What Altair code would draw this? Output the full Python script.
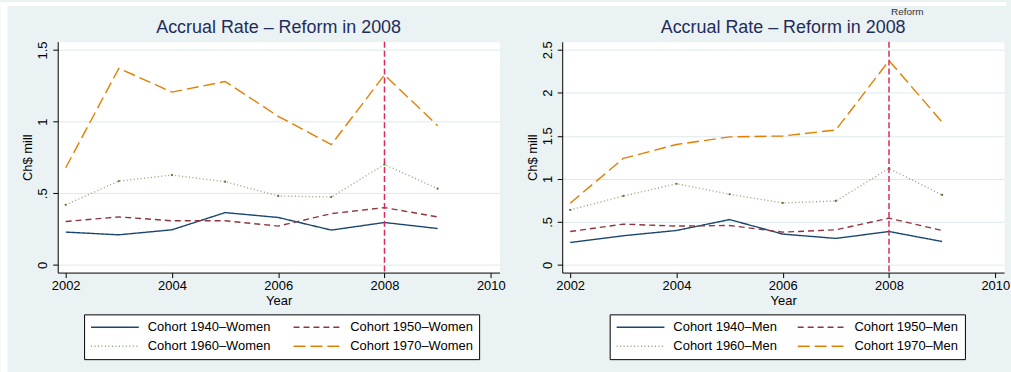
import altair as alt
import pandas as pd

# Survey years and birth cohorts
years = [2002, 2003, 2004, 2005, 2006, 2007, 2008, 2009]
cohorts = ["1940", "1950", "1960", "1970"]

# Accrual rate (Ch$ million) by cohort, women
women_1940 = [0.229, 0.210, 0.245, 0.365, 0.331, 0.243, 0.296, 0.254]
women_1950 = [0.303, 0.335, 0.308, 0.308, 0.271, 0.358, 0.400, 0.335]
women_1960 = [0.419, 0.585, 0.627, 0.581, 0.481, 0.474, 0.701, 0.532]
women_1970 = [0.678, 1.372, 1.206, 1.280, 1.037, 0.840, 1.326, 0.972]

# Accrual rate (Ch$ million) by cohort, men
men_1940 = [0.261, 0.339, 0.400, 0.527, 0.358, 0.308, 0.388, 0.272]
men_1950 = [0.388, 0.474, 0.451, 0.458, 0.381, 0.408, 0.543, 0.400]
men_1960 = [0.639, 0.801, 0.943, 0.821, 0.720, 0.743, 1.121, 0.813]
men_1970 = [0.717, 1.237, 1.399, 1.487, 1.498, 1.568, 2.373, 1.660]

reform_year = [2008]
women_ticks = [0, 0.5, 1, 1.5]
men_ticks = [0, 0.5, 1, 1.5, 2, 2.5]
x_ticks = [2002, 2004, 2006, 2008, 2010]

colors = ["#1a476f", "#90353b", "#8fa37a", "#e37e00"]
dashes = [[1, 0], [6, 4], [1, 2.5], [12, 5]]
BG = "#eaf2f3"
FONT = "Liberation Sans"
W, H = 444, 232
GAP = 63
# long horizontal legend key (path units are scaled by sqrt(symbolSize)/2)
KEY_PATH = "M-1,0H7"


def panel(series, suffix, y_domain, y_ticks, legend_x, col_pad, is_left):
    labels = [f"Cohort {c}\u2013{suffix}" for c in cohorts]
    rows = []
    for lab, vals in zip(labels, series):
        for yr, v in zip(years, vals):
            rows.append({"year": yr, "value": v, "series": lab})
    df = pd.DataFrame(rows)

    x = alt.X(
        "year:Q",
        scale=alt.Scale(domain=[2001.85, 2010.165], nice=False, zero=False),
        axis=alt.Axis(
            values=x_ticks, format="d", grid=False, labelFlush=False,
            labelOverlap=False, tickSize=5, tickColor="black",
            domainColor="black", labelFontSize=13, labelColor="black",
            labelPadding=2, title="Year", titleFontSize=13,
            titleFontWeight="normal", titleColor="black", titleX=W / 2,
            titleY=28, titleBaseline="middle", titleAlign="center",
        ),
    )
    y = alt.Y(
        "value:Q",
        scale=alt.Scale(domain=y_domain, nice=False, zero=False),
        axis=alt.Axis(
            values=y_ticks, labelExpr="replace(toString(datum.value), '0.', '.')",
            labelAngle=270, labelAlign="center", labelBaseline="bottom",
            labelPadding=3, tickSize=5, tickColor="black", domainColor="black",
            labelFontSize=13, labelColor="black", grid=True,
            gridColor="#dde9ec", gridWidth=1, title="Ch$ mill",
            titleFontSize=13, titleFontWeight="normal", titleColor="black",
            titleAngle=270, titleX=-30, titleY=H / 2,
            titleBaseline="middle", titleAlign="center",
        ),
    )
    legend = alt.Legend(
        title=None, orient="none", legendX=legend_x, legendY=274,
        direction="horizontal", columns=2, columnPadding=col_pad,
        rowPadding=5, padding=6, strokeColor="black", fillColor="white",
        symbolType=KEY_PATH, symbolSize=144, symbolStrokeWidth=1.5,
        labelFontSize=13, labelColor="black", labelOffset=44, labelLimit=300,
    )
    lines = alt.Chart(df).mark_line(strokeWidth=1.4).encode(
        x=x,
        y=y,
        color=alt.Color("series:N", scale=alt.Scale(domain=labels, range=colors), legend=legend),
        strokeDash=alt.StrokeDash("series:N", scale=alt.Scale(domain=labels, range=dashes), legend=legend),
    )
    dots = (
        alt.Chart(df)
        .transform_filter(alt.datum.series == labels[2])
        .mark_point(filled=True, size=5, color="#55752f", opacity=1)
        .encode(x="year:Q", y="value:Q")
    )
    ref = pd.DataFrame({"year": reform_year})
    rule = alt.Chart(ref).mark_rule(color="#dc2a5a", strokeDash=[6, 3], strokeWidth=1.5).encode(x="year:Q")
    layers = [lines, dots, rule]

    # white page margin along the top (and left) of the figure frame
    blank = pd.DataFrame({"k": [0]})
    if is_left:
        layers.append(
            alt.Chart(blank).mark_rect(color="white").encode(
                x=alt.value(-57.5), x2=alt.value(-50.5), y=alt.value(-40), y2=alt.value(332)
            )
        )
        layers.append(
            alt.Chart(blank).mark_rect(color="white").encode(
                x=alt.value(-57.5), x2=alt.value(W + GAP / 2), y=alt.value(-40), y2=alt.value(-36)
            )
        )
    else:
        layers.append(
            alt.Chart(blank).mark_rect(color="white").encode(
                x=alt.value(-GAP / 2), x2=alt.value(446.5), y=alt.value(-40), y2=alt.value(-36)
            )
        )
        layers.append(
            alt.Chart(ref)
            .mark_text(text="Reform", align="left", dx=2, baseline="middle", fontSize=10, color="#333333")
            .encode(x="year:Q", y=alt.value(-29.5))
        )
    return alt.layer(*layers).properties(
        width=W,
        height=H,
        title=alt.TitleParams(
            text="Accrual Rate \u2013 Reform in 2008", fontSize=18, color="#1f2d5a",
            font=FONT, fontWeight="normal", anchor="middle", frame="group",
            baseline="alphabetic", offset=0, dy=49,
        ),
    )


left = panel([women_1940, women_1950, women_1960, women_1970], "Women",
             [-0.0535, 1.5576], women_ticks, 26.5, 19.5, True)
right = panel([men_1940, men_1950, men_1960, men_1970], "Men",
              [-0.089, 2.593], men_ticks, 47.7, 17, False)

chart = (
    alt.hconcat(left, right, spacing=GAP, bounds="flush")
    .resolve_scale(color="independent", strokeDash="independent", x="independent", y="independent")
    .resolve_legend(color="independent", strokeDash="independent")
    .properties(padding=0)
    .configure(background=BG, font=FONT)
    .configure_view(fill="white", stroke="transparent")
)

chart.save("out.html", embed_options={"renderer": "svg", "actions": False})
